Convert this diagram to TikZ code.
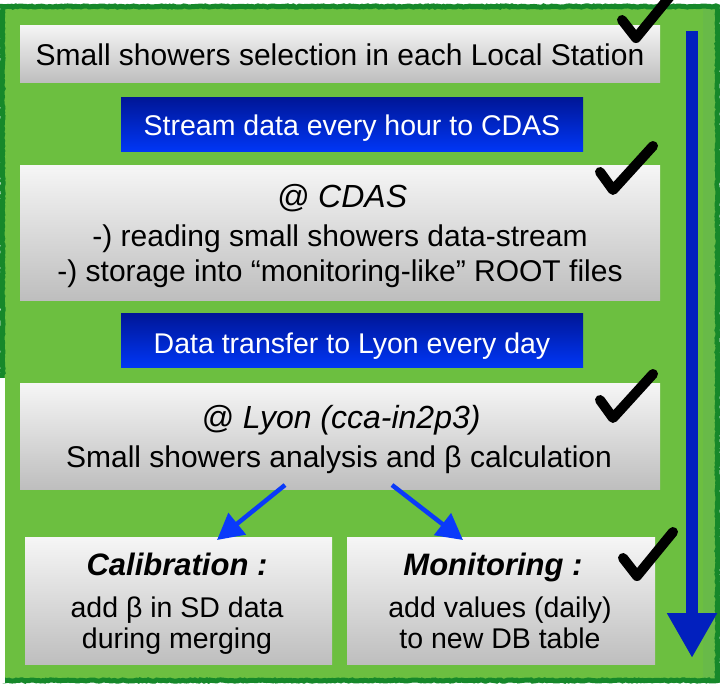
\documentclass[tikz,border=0pt]{standalone}
\usepackage{fontspec}
\setmainfont{Liberation Sans}
\usetikzlibrary{arrows.meta,decorations.pathmorphing}
\definecolor{bggreen}{RGB}{108,191,64}
\definecolor{colgreen}{RGB}{104,186,72}
\definecolor{darkgr}{RGB}{22,136,42}
\definecolor{barblue}{RGB}{2,32,190}
\definecolor{arrblue}{RGB}{10,58,250}
\definecolor{navy}{RGB}{0,22,150}
\definecolor{brightblue}{RGB}{0,54,245}
\definecolor{grtop}{RGB}{246,246,246}
\definecolor{grbot}{RGB}{190,190,190}
\newcommand\bodyfont{\fontsize{30}{36}\selectfont}
\newcommand\smallbody{\fontsize{28.5}{34}\selectfont}
\newcommand\headfont{\fontsize{32}{38}\selectfont\itshape}
\newcommand\bheadfont{\fontsize{31}{37}\selectfont\bfseries\itshape}
\begin{document}
\begin{tikzpicture}[x=1pt,y=-1pt,
  graybox/.style={rectangle, inner sep=0pt, top color=grtop, bottom color=grbot, draw=none},
  bluebox/.style={rectangle, inner sep=0pt, top color=navy, bottom color=brightblue, draw=none},
  txt/.style={anchor=base, inner sep=0pt, text=black},
  wtxt/.style={anchor=base, inner sep=0pt, text=white, font=\smallbody},
  diagarrow/.style={draw=arrblue, line width=4.5pt, -{Triangle[length=26pt,width=27pt]}},
  checkmark/.style={draw=black, line width=10pt, line cap=round, line join=round}]
\useasboundingbox (0,0) rectangle (720,683);
\fill[white] (0,0) rectangle (720,683);
% background
\fill[bggreen] (2.5,6.5) rectangle (717.5,680.5);
\fill[colgreen] (703,9) rectangle (715,678);
\draw[darkgr, line width=5pt, decorate, decoration={random steps, segment length=2pt, amplitude=0.6pt}]
  (2.5,6.5) rectangle (717.5,680.5);
\fill[white] (0,378) rectangle (5,683);
\fill[bggreen] (5,378) rectangle (20,677);

% boxes
\node[graybox, minimum width=640pt, minimum height=57pt] (b1) at (340,53.5) {};
\node[bluebox, minimum width=462pt, minimum height=54pt] (s1) at (352,124) {};
\node[graybox, minimum width=640pt, minimum height=135pt] (b2) at (340,232.5) {};
\node[bluebox, minimum width=462pt, minimum height=54pt] (s2) at (352,340) {};
\node[graybox, minimum width=640pt, minimum height=106pt] (b3) at (340,436) {};
\node[graybox, minimum width=307pt, minimum height=127pt] (bl) at (178.5,600.5) {};
\node[graybox, minimum width=308pt, minimum height=127pt] (br) at (501,600.5) {};

% texts
\node[txt, font=\bodyfont] (t1) at (340,65) {Small showers selection in each Local Station};
\node[wtxt] (ts1) at (352,135) {Stream data every hour to CDAS};
\node[txt, font=\headfont] (t2a) at (342,207) {@ CDAS};
\node[txt, font=\bodyfont] (t2b) at (340,246) {-) reading small showers data-stream};
\node[txt, font=\bodyfont] (t2c) at (340,281) {-) storage into “monitoring-like” ROOT files};
\node[wtxt] (ts2) at (352,353) {Data transfer to Lyon every day};
\node[txt, font=\headfont] (t3a) at (341,428) {@ Lyon (cca-in2p3)};
\node[txt, font=\bodyfont] (t3b) at (339,467) {Small showers analysis and β calculation};
\node[txt, font=\bheadfont] (tla) at (177,575) {Calibration :};
\node[txt, font=\smallbody] (tlb) at (177,617) {add β in SD data};
\node[txt, font=\smallbody] (tlc) at (177,648) {during merging};
\node[txt, font=\bheadfont] (tra) at (493,575) {Monitoring :};
\node[txt, font=\smallbody] (trb) at (500,617) {add values (daily)};
\node[txt, font=\smallbody] (trc) at (500,648) {to new DB table};

% diagonal arrows
\coordinate (a1s) at (285,485);
\coordinate (a1e) at (217,540);
\coordinate (a2s) at (392,485);
\coordinate (a2e) at (463,540);
\draw[diagarrow] (a1s) -- (a1e);
\draw[diagarrow] (a2s) -- (a2e);

% vertical arrow
\coordinate (vtop) at (692,31);
\coordinate (vbot) at (692,658);
\draw[draw=barblue, line width=12pt, -{Triangle[length=45pt,width=47pt]}] (vtop) -- (vbot);

% check marks
\draw[checkmark] (622,20) -- (636,38) -- (672,-6);
\draw[checkmark] (600,172) -- (613,190) -- (653,146);
\draw[checkmark] (600,400) -- (613,418) -- (653,374);
\draw[checkmark] (623,558) -- (637,576) -- (673,532);
\end{tikzpicture}
\end{document}
